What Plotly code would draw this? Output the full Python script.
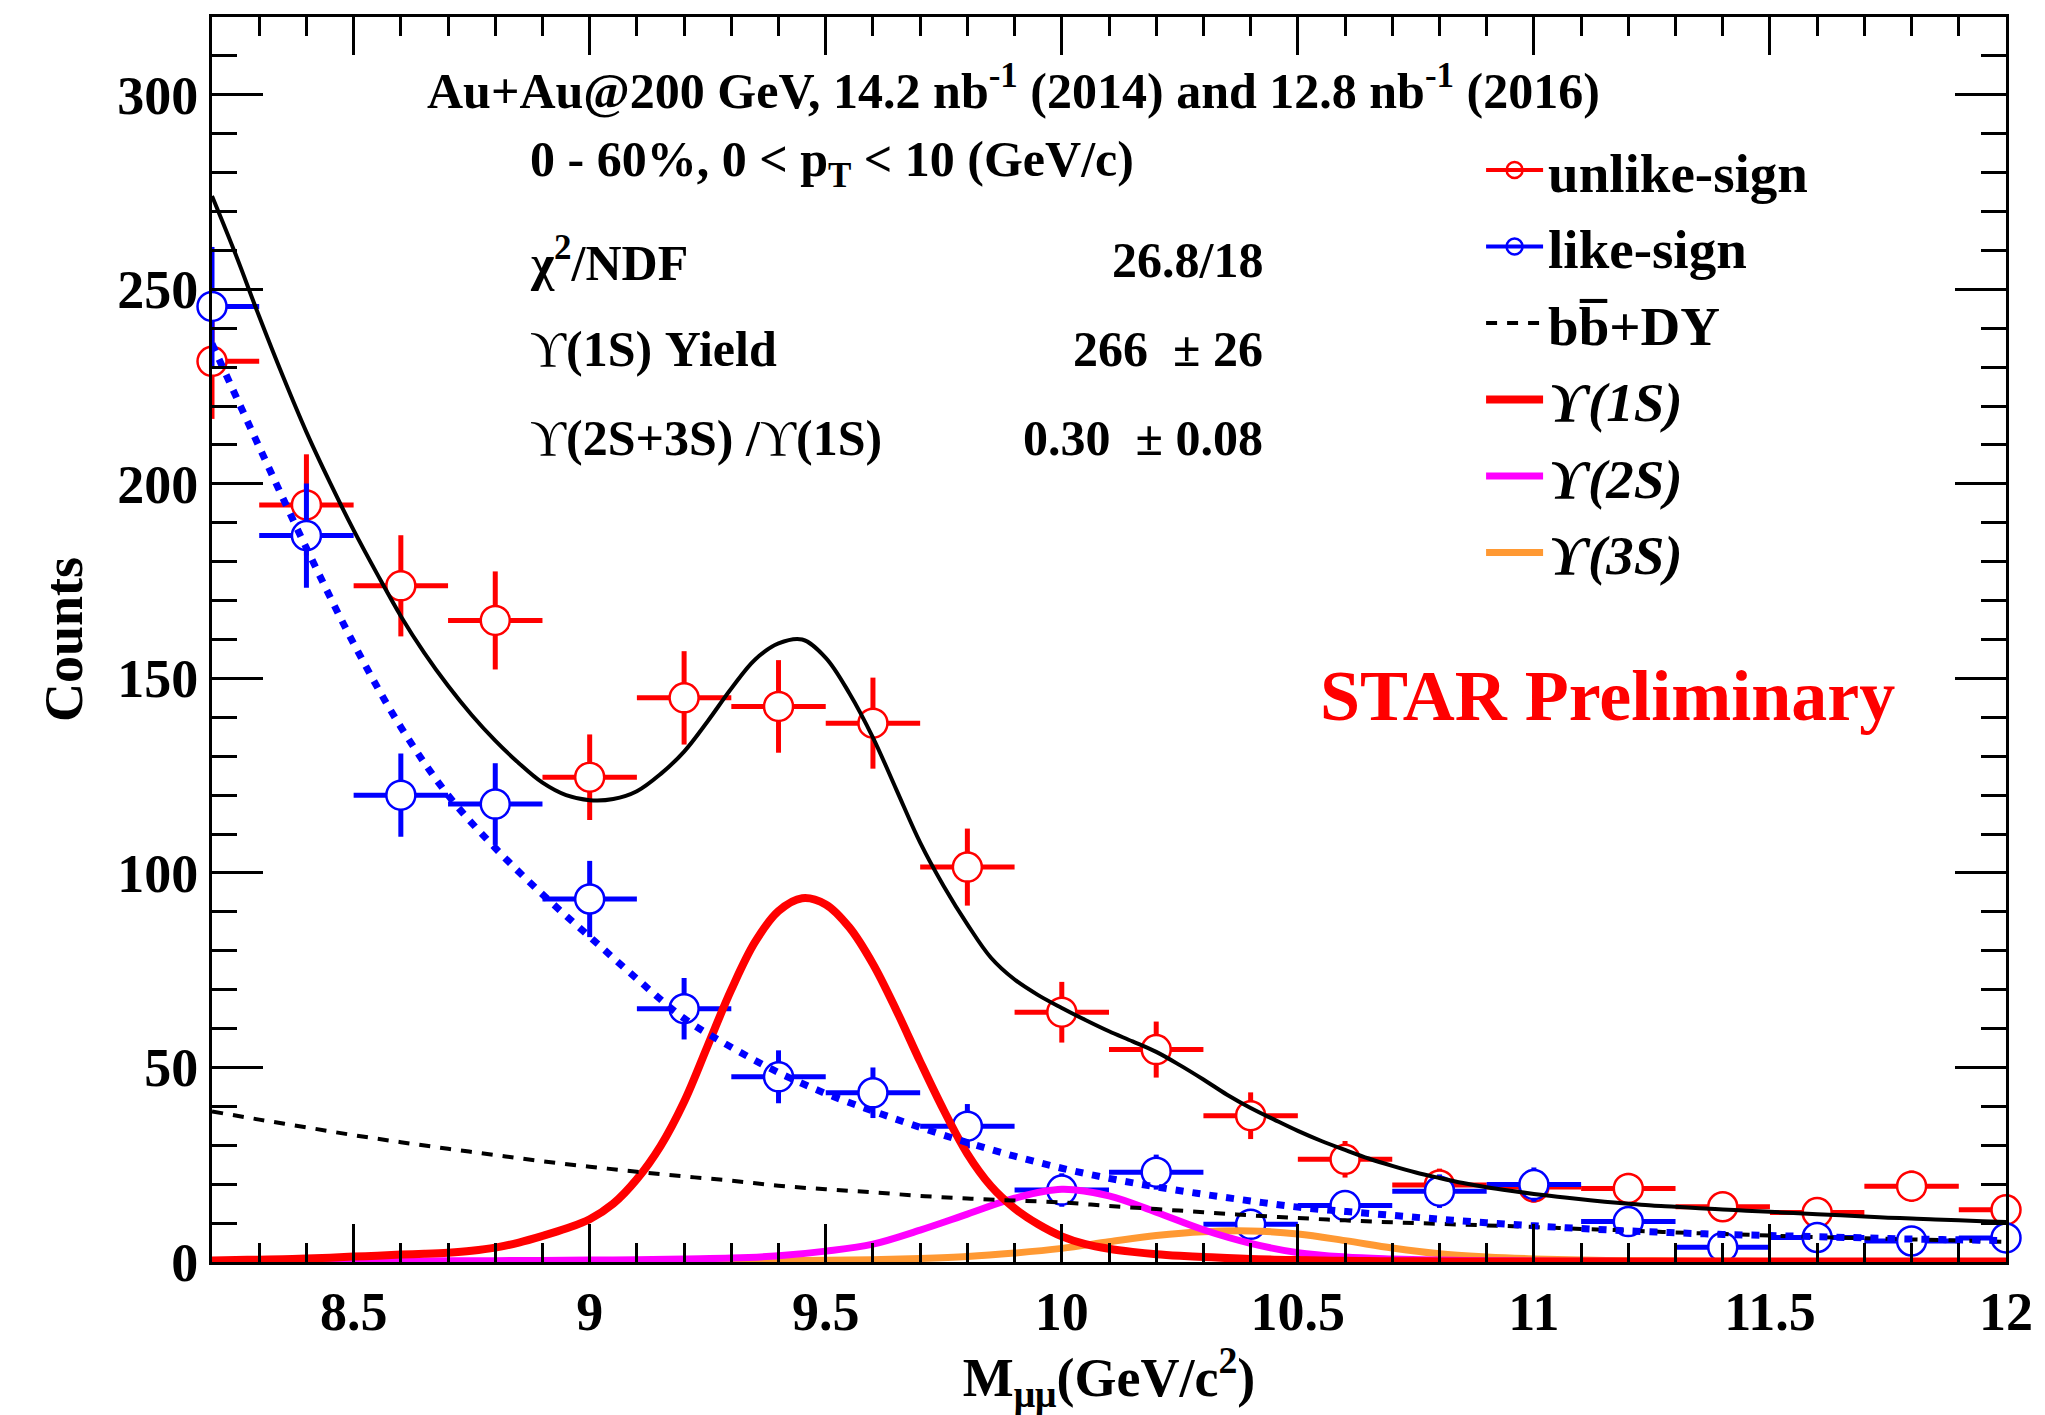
import plotly.graph_objects as go

# ---------------- data ----------------
mass_bins = [8.2, 8.4, 8.6, 8.8, 9.0, 9.2, 9.4, 9.6, 9.8, 10.0,
             10.2, 10.4, 10.6, 10.8, 11.0, 11.2, 11.4, 11.6, 11.8, 12.0]
bin_half_width = 0.1

unlike_counts = [231.5, 194.6, 173.8, 164.9, 124.6, 145.0, 142.8, 138.5, 101.5, 64.2,
                 54.6, 37.6, 26.4, 19.8, 19.3, 18.9, 14.2, 12.7, 19.5, 13.4]
unlike_err = [14.8, 13.0, 13.0, 12.6, 11.0, 12.0, 11.9, 11.7, 9.9, 7.8,
              7.2, 6.0, 4.7, 4.2, 4.0, 4.0, 3.5, 3.4, 4.0, 3.5]

like_counts = [245.6, 186.7, 120.0, 117.7, 93.3, 65.1, 47.6, 43.5, 34.9, 18.5,
               23.1, 9.7, 14.5, 18.2, 19.9, 10.4, 3.8, 6.3, 5.4, 6.2]
like_err = [15.3, 13.4, 10.7, 10.5, 9.8, 7.9, 6.8, 6.5, 5.7, 4.3,
            4.5, 3.0, 3.8, 4.3, 4.4, 3.2, 2.0, 2.5, 2.3, 2.5]

# fine mass grid (0.05 GeV/c^2) for the total fit and the 1S peak
mass_fine = [8.20, 8.25, 8.30, 8.35, 8.40, 8.45, 8.50, 8.55, 8.60, 8.65,
             8.70, 8.75, 8.80, 8.85, 8.90, 8.95, 9.00, 9.05, 9.10, 9.15,
             9.20, 9.25, 9.30, 9.35, 9.40, 9.45, 9.50, 9.55, 9.60, 9.65,
             9.70, 9.75, 9.80, 9.85, 9.90, 9.95, 10.00, 10.05, 10.10, 10.15,
             10.20, 10.25, 10.30, 10.35, 10.40, 10.45, 10.50, 10.55, 10.60, 10.65,
             10.70, 10.75, 10.80, 10.85, 10.90, 10.95, 11.00, 11.05, 11.10, 11.15,
             11.20, 11.25, 11.30, 11.35, 11.40, 11.45, 11.50, 11.55, 11.60, 11.65,
             11.70, 11.75, 11.80, 11.85, 11.90, 11.95, 12.00]
total_fit = [274.0, 259.0, 243.0, 227.7, 213.3, 200.3, 188.1, 176.8, 166.0, 156.5,
             148.1, 140.6, 134.0, 128.2, 123.2, 120.0, 118.7, 119.0, 121.0, 125.4,
             131.2, 139.0, 147.4, 154.8, 159.0, 160.0, 155.3, 146.2, 134.8, 121.3,
             107.8, 96.6, 86.8, 78.2, 72.6, 68.6, 65.3, 62.2, 59.3, 56.7,
             54.0, 50.6, 46.9, 43.0, 39.6, 36.6, 33.7, 31.1, 28.8, 26.6,
             24.7, 23.0, 21.6, 20.3, 19.2, 18.3, 17.5, 16.8, 16.1, 15.5,
             15.0, 14.5, 14.2, 13.8, 13.5, 13.2, 12.9, 12.6, 12.3, 12.0,
             11.7, 11.4, 11.2, 10.9, 10.7, 10.5, 10.3]
ups1s_fit = [0.4, 0.5, 0.6, 0.7, 0.9, 1.1, 1.4, 1.6, 1.9, 2.1,
             2.4, 2.9, 3.7, 5.0, 6.7, 8.6, 11.0, 15.0, 21.3, 29.8,
             41.2, 55.6, 70.0, 82.2, 90.2, 93.5, 91.9, 86.0, 76.6, 64.6,
             51.5, 39.0, 27.8, 19.5, 13.8, 9.7, 6.6, 4.6, 3.4, 2.6,
             2.0, 1.6, 1.3, 1.0, 0.8, 0.6, 0.5, 0.4, 0.3, 0.25,
             0.2, 0.18, 0.15, 0.13, 0.12, 0.1, 0.1, 0.1, 0.1, 0.1,
             0.1, 0.1, 0.1, 0.1, 0.1, 0.1, 0.1, 0.1, 0.1, 0.1,
             0.1, 0.1, 0.1, 0.1, 0.1, 0.1, 0.1]

# coarse mass grid (0.1 GeV/c^2) for the smooth components
mass_coarse = [8.2, 8.3, 8.4, 8.5, 8.6, 8.7, 8.8, 8.9, 9.0, 9.1,
               9.2, 9.3, 9.4, 9.5, 9.6, 9.7, 9.8, 9.9, 10.0, 10.1,
               10.2, 10.3, 10.4, 10.5, 10.6, 10.7, 10.8, 10.9, 11.0, 11.1,
               11.2, 11.3, 11.4, 11.5, 11.6, 11.7, 11.8, 11.9, 12.0]
likesign_fit = [236.0, 209.5, 183.5, 159.0, 137.5, 120.0, 106.4, 94.5, 83.6, 72.8,
                62.6, 55.2, 48.7, 43.3, 38.8, 34.6, 30.7, 27.2, 24.1, 21.5,
                19.3, 17.4, 15.7, 14.1, 13.0, 12.0, 11.0, 10.1, 9.3, 8.6,
                8.0, 7.5, 7.1, 6.8, 6.5, 6.2, 5.9, 5.7, 5.5]
bbdy_fit = [38.7, 36.6, 34.6, 32.6, 30.8, 29.1, 27.5, 25.9, 24.5, 23.2,
            22.0, 20.9, 19.6, 18.7, 17.9, 17.0, 16.3, 15.8, 15.3, 14.4,
            13.6, 12.8, 12.0, 11.3, 10.7, 10.2, 9.8, 9.4, 9.0, 8.5,
            8.1, 7.6, 7.2, 6.8, 6.4, 6.1, 5.8, 5.5, 5.2]
ups2s_fit = [0.1, 0.1, 0.15, 0.2, 0.25, 0.3, 0.35, 0.4, 0.5, 0.6,
             0.8, 1.0, 1.6, 2.8, 4.6, 8.2, 12.3, 16.4, 18.7, 17.0,
             12.8, 8.3, 4.8, 2.4, 1.3, 0.8, 0.5, 0.35, 0.25, 0.2,
             0.15, 0.12, 0.1, 0.1, 0.1, 0.1, 0.1, 0.1, 0.1]
ups3s_fit = [0.05, 0.05, 0.05, 0.05, 0.1, 0.1, 0.1, 0.1, 0.15, 0.2,
             0.25, 0.3, 0.35, 0.45, 0.6, 0.9, 1.4, 2.3, 3.5, 5.2,
             6.8, 7.8, 8.0, 7.2, 5.5, 3.6, 2.1, 1.3, 0.8, 0.5,
             0.35, 0.25, 0.2, 0.15, 0.12, 0.1, 0.1, 0.1, 0.1]

# ---------------- styles ----------------
FONT = "Liberation Serif, Times New Roman, DejaVu Serif, serif"
RED = "#ff0000"
BLUE = "#0000ff"
MAGENTA = "#ff00ff"
ORANGE = "#ff9933"

fig = go.Figure()


def add_data(y, err, color, name):
    # error bars (clipped to the frame)
    fig.add_trace(go.Scatter(
        x=mass_bins, y=y, mode="markers", name=name, showlegend=False,
        error_y=dict(type="data", array=err, color=color, thickness=5, width=0),
        error_x=dict(type="constant", value=bin_half_width, color=color, thickness=5, width=0),
        marker=dict(size=1, opacity=0, color=color),
        hoverinfo="skip"))
    # open circles on top (not clipped, like ROOT markers at the edge)
    fig.add_trace(go.Scatter(
        x=mass_bins, y=y, mode="markers", name=name, showlegend=False, cliponaxis=False,
        marker=dict(symbol="circle", size=29, color="white",
                    line=dict(color=color, width=2.5))))


add_data(unlike_counts, unlike_err, RED, "unlike-sign")
add_data(like_counts, like_err, BLUE, "like-sign")

# curves
fig.add_trace(go.Scatter(x=mass_coarse, y=ups3s_fit, mode="lines", name="<i>ϒ(3S)</i>",
                         line=dict(color=ORANGE, width=7, shape="spline"),
                         legendrank=6, legendgroup="g6"))
fig.add_trace(go.Scatter(x=mass_coarse, y=ups2s_fit, mode="lines", name="<i>ϒ(2S)</i>",
                         line=dict(color=MAGENTA, width=7, shape="spline"),
                         legendrank=5, legendgroup="g5"))
fig.add_trace(go.Scatter(x=mass_fine, y=ups1s_fit, mode="lines", name="<i>ϒ(1S)</i>",
                         line=dict(color=RED, width=8, shape="spline"),
                         legendrank=4, legendgroup="g4"))
fig.add_trace(go.Scatter(x=mass_coarse, y=bbdy_fit, mode="lines", name="bb\u0305+DY",
                         line=dict(color="black", width=4, dash="11px,10px", shape="spline"),
                         legendrank=3, legendgroup="g3"))
fig.add_trace(go.Scatter(x=mass_coarse, y=likesign_fit, mode="lines", showlegend=False,
                         line=dict(color=BLUE, width=7, dash="8px,9px", shape="spline")))
fig.add_trace(go.Scatter(x=mass_fine, y=total_fit, mode="lines", showlegend=False,
                         line=dict(color="black", width=4, shape="spline")))

# legend-only entries for the data points
for name, color, rank in (("unlike-sign", RED, 1), ("like-sign", BLUE, 2)):
    fig.add_trace(go.Scatter(
        x=[None], y=[None], mode="lines+markers", name=name,
        line=dict(color=color, width=4),
        marker=dict(symbol="circle", size=26, color="rgba(0,0,0,0)",
                    line=dict(color=color, width=2.5)),
        legendrank=rank, legendgroup="g%d" % rank))

axis_common = dict(
    showline=True, linecolor="black", linewidth=3, mirror="ticks",
    ticks="inside", tickcolor="black", tickwidth=2.5,
    showgrid=False, zeroline=False,
    tickfont=dict(family=FONT, size=54, color="black", weight="bold"),
)

fig.update_layout(
    width=2045, height=1415,
    margin=dict(l=212, r=39, t=17, b=153),
    plot_bgcolor="white", paper_bgcolor="white",
    font=dict(family=FONT, size=54, color="black", weight="bold"),
    xaxis=dict(range=[8.2, 12.0], tickmode="linear", tick0=0, dtick=0.5, ticklen=38,
               minor=dict(dtick=0.1, tick0=0, ticklen=19, ticks="inside",
                          tickcolor="black", tickwidth=2.5),
               title=dict(text="M<sub>μμ</sub>(GeV/c<sup>2</sup>)", standoff=22,
                          font=dict(family=FONT, size=54, weight="bold")),
               **axis_common),
    yaxis=dict(range=[0, 320], tickmode="linear", tick0=0, dtick=50, ticklen=51,
               minor=dict(dtick=10, tick0=0, ticklen=25, ticks="inside",
                          tickcolor="black", tickwidth=2.5),
               title=dict(text="Counts", standoff=18,
                          font=dict(family=FONT, size=54, weight="bold")),
               **axis_common),
    legend=dict(x=0.7074, y=0.911, xanchor="left", yanchor="top",
                bgcolor="rgba(0,0,0,0)", font=dict(family=FONT, size=55, weight="bold"),
                tracegroupgap=2, itemwidth=57),
    showlegend=True,
)

ann_font = dict(family=FONT, size=50, color="black", weight="bold")
texts = [
    ("Au+Au@200 GeV, 14.2 nb<sup>-1</sup> (2014) and 12.8 nb<sup>-1</sup> (2016)", 0.4465, 0.943, "center"),
    ("0 - 60%, 0 &lt; p<sub>T</sub> &lt; 10 (GeV/c)", 0.176, 0.883, "left"),
    ("χ<sup>2</sup>/NDF", 0.176, 0.805, "left"),
    ("<span style=\"font-weight:normal\">ϒ</span>(1S) Yield", 0.176, 0.733, "left"),
    ("<span style=\"font-weight:normal\">ϒ</span>(2S+3S) /<span style=\"font-weight:normal\">ϒ</span>(1S)", 0.176, 0.662, "left"),
    ("26.8/18", 0.587, 0.805, "right"),
    ("266  ± 26", 0.587, 0.733, "right"),
    ("0.30  ± 0.08", 0.587, 0.662, "right"),
]
for t, x, y, anchor in texts:
    fig.add_annotation(text=t, x=x, y=y, xref="paper", yref="paper",
                       xanchor=anchor, yanchor="middle", showarrow=False, font=ann_font)

fig.add_annotation(text="STAR Preliminary", x=0.778, y=0.455, xref="paper", yref="paper",
                   xanchor="center", yanchor="middle", showarrow=False,
                   font=dict(family=FONT, size=72, color=RED, weight="bold"))

fig.write_html("out.html")
